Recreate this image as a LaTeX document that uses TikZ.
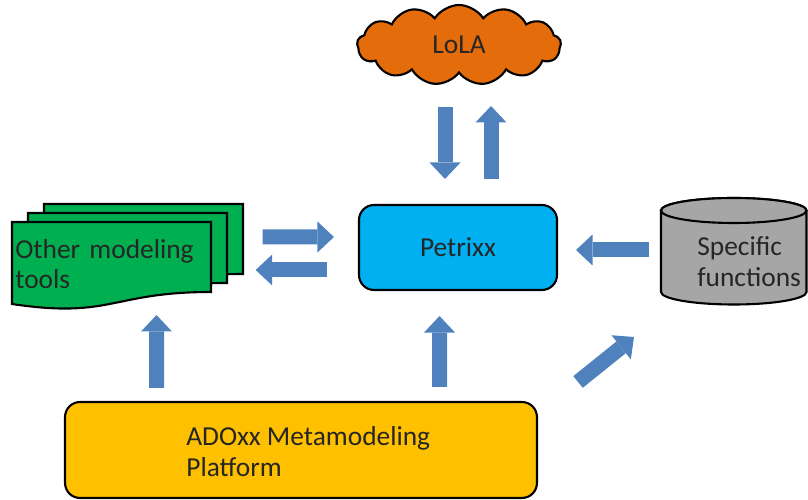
\documentclass[tikz,border=0pt]{standalone}
\usepackage{fontspec}
\setmainfont{Carlito}
\usetikzlibrary{shapes.symbols,arrows.meta}

\begin{document}
\begin{tikzpicture}[x=0.02cm, y=0.02cm]
    \definecolor{arrow_color}{RGB}{79,129,189}
    \definecolor{cloud_color}{RGB}{228,108,10}
    \definecolor{box_color}{RGB}{0,176,240}
    \definecolor{doc_color}{RGB}{0,176,80}
    \definecolor{base_color}{RGB}{255,192,0}
    \definecolor{cyl_color}{RGB}{166,166,166}
    \tikzstyle{every node} = [font=\fontsize{15.6}{17.5}\selectfont, text=black!85]
    \tikzstyle{outline} = [draw=black, line width=1.2pt]
    \tikzstyle{txt} = [inner sep=0, align=left, anchor=west]
    \tikzstyle{blockarrow} = [line width=0.3cm, arrow_color, -{Triangle[width=0.62cm, length=0.33cm, line width=0pt]}]
    \useasboundingbox (0,0) rectangle (808,500);
    % stack of documents
    \foreach \dx/\dy in {32/18, 16/9, 0/0}
        \draw[outline, fill=doc_color, shift={(\dx,\dy)}] (12,278) -- (211,278) -- (211,208) .. controls (111.5,208) and (111.5,181) .. (12,196) -- cycle;
    % cylinder
    \draw[outline, fill=cyl_color] (661,289.5) -- (661,208) arc[start angle=180, end angle=360, x radius=1.455cm, y radius=0.25cm] -- (806.5,289.5) arc[start angle=0, end angle=180, x radius=1.455cm, y radius=0.25cm] -- cycle;
    \draw[outline, fill=cyl_color] (733.75,289.5) ellipse [x radius=1.455cm, y radius=0.25cm];

    \node[outline, fill=cloud_color, cloud, cloud puffs=13, cloud puff arc=115, cloud ignores aspect, minimum width=4.08cm, minimum height=1.6cm, inner sep=0] (lola) at (459,455) {LoLA};
    \node[outline, fill=box_color, rounded corners=0.3cm, minimum width=3.96cm, minimum height=1.7cm] (petrixx) at (458,252.5) {Petrixx\hspace{0.25cm}};
    \node[outline, fill=base_color, rounded corners=0.3cm, minimum width=9.44cm, minimum height=1.92cm] (adoxx) at (301,50) {};
    \node[txt] (adoxxtext) at (186,48.5) {ADOxx Metamodeling\\Platform};
    \node[txt, text width=3.98cm] (tools) at (15,236) {Other modeling\\tools};
    \node[txt] (spec) at (697,238) {Specific\\functions};

    \draw[blockarrow] ([shift={(-14,-62)}]lola.center) -- ([shift={(-13,25)}]petrixx.north);
    \draw[blockarrow] ([shift={(33,25)}]petrixx.north) -- ([shift={(32,-61)}]lola.center);
    \draw[blockarrow] ([shift={(48,27)}]tools.east) -- ([shift={(-24,10.5)}]petrixx.west);
    \draw[blockarrow] ([shift={(-31,-22.5)}]petrixx.west) -- ([shift={(41,-6)}]tools.east);
    \draw[blockarrow] ([shift={(-48,12)}]spec.west) -- ([shift={(18,-2.5)}]petrixx.east);
    \draw[blockarrow] ([shift={(-144.5,13)}]adoxx.north) -- ([shift={(141.5,-51)}]tools.west);
    \draw[blockarrow] ([shift={(138.5,14)}]adoxx.north) -- ([shift={(-18.5,-25)}]petrixx.south);
    \draw[blockarrow] ([shift={(40,19)}]adoxx.north east) -- ([shift={(-63,-75)}]spec.west);
\end{tikzpicture}
\end{document}
